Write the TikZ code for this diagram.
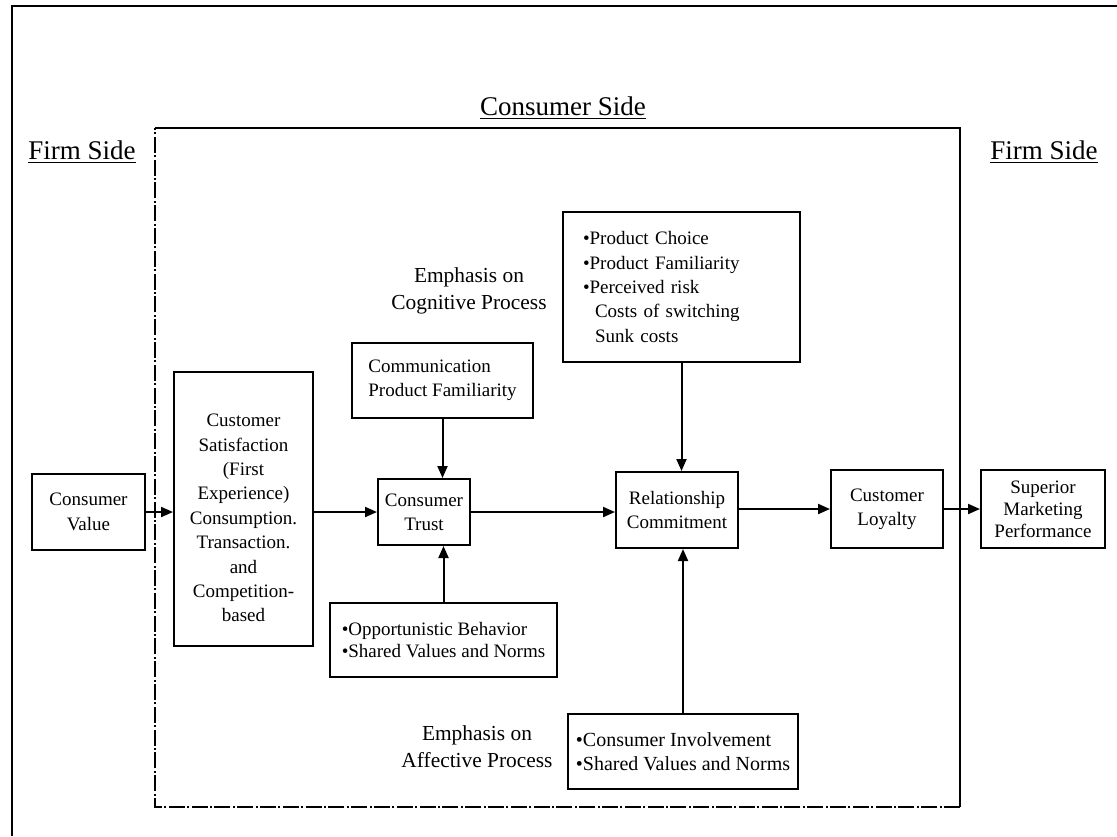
\documentclass[tikz,border=0pt]{standalone}
\usepackage{fontspec}
\setmainfont{Liberation Serif}
\usetikzlibrary{arrows.meta}
\begin{document}
\begin{tikzpicture}[x=0.5pt,y=-0.5pt,
  box/.style={draw, line width=1pt, rectangle, inner sep=2pt, font=\fontsize{9.5}{12.2}\selectfont, align=center},
  boxtext/.style={inner sep=0pt, font=\fontsize{9.5}{12.2}\selectfont, align=center},
  arr/.style={line width=1pt, -{Triangle[length=6pt,width=5pt]}},
  heading/.style={font=\fontsize{13.5}{16}\selectfont, inner sep=0pt},
  emphtext/.style={font=\fontsize{10.7}{13.5}\selectfont, align=center, inner sep=0pt}]
\useasboundingbox (0,0) rectangle (1117,836);
% outer frame
\draw[line width=1.2pt] (12,836) -- (12,6) -- (1117,6);
% consumer side box
\draw[line width=0.6pt] (155,128) -- (960,128) -- (960,807);
\draw[line width=0.6pt, dash pattern=on 8pt off 1.2pt on 1pt off 1.2pt] (960,807) -- (155,807) -- (155,128);
% headings
\node[heading] (cside) at (563,108) {\underline{Consumer Side}};
\node[heading] (fleft) at (82,152) {\underline{Firm Side}};
\node[heading] (fright) at (1044,152) {\underline{Firm Side}};
\node[emphtext] (cog) at (469,291) {Emphasis on\\Cognitive Process};
\node[emphtext] (aff) at (477,747) {Emphasis on\\Affective Process};
% boxes
\node[box, minimum width=56.5pt, minimum height=38pt] (cv) at (88.5,512) {Consumer\\Value};
\node[box, minimum width=69.5pt, minimum height=137pt] (sat) at (243.5,509) {};
\node[boxtext] (sattext) at (243.5,518) {Customer\\Satisfaction\\(First\\Experience)\\Consumption.\\Transaction.\\and\\Competition-\\based};
\node[box, minimum width=90.5pt, minimum height=37.5pt, align=left] (comm) at (442.5,380.5) {Communication\\Product Familiarity};
\node[box, minimum width=46pt, minimum height=33pt] (trust) at (424,512) {Consumer\\Trust};
\node[box, minimum width=113.5pt, minimum height=37pt, align=left, font=\fontsize{9.5}{10.8}\selectfont] (opp) at (443.5,640) {•Opportunistic Behavior\\•Shared Values and Norms};
\node[box, minimum width=118.5pt, minimum height=75pt, inner xsep=10pt, text width=98.5pt, align=left] (prod) at (681.5,287) {•Product Choice\\•Product Familiarity\\•Perceived risk\\\hspace*{6pt}Costs of switching\\\hspace*{6pt}Sunk costs};
\node[box, minimum width=61pt, minimum height=38pt] (rel) at (677,510) {Relationship\\Commitment};
\node[box, minimum width=115pt, minimum height=37.5pt, align=left, font=\fontsize{10}{12}\selectfont] (inv) at (683,751.5) {•Consumer Involvement\\•Shared Values and Norms};
\node[box, minimum width=56pt, minimum height=39pt] (loy) at (887,509) {Customer\\Loyalty};
\node[box, minimum width=62pt, minimum height=39pt, font=\fontsize{9.5}{11}\selectfont] (sup) at (1043,509) {Superior\\Marketing\\Performance};
% connectors
\draw[arr] (cv.east) -- (sat.west |- cv.east);
\draw[arr] (sat.east |- trust.west) -- (trust.west);
\draw[arr] (trust.east) -- (rel.west |- trust.east);
\draw[arr] (rel.east |- loy.west) -- (loy.west);
\draw[arr] (loy.east) -- (sup.west);
\draw[arr] (comm.south) -- (comm.south |- trust.north);
\draw[arr] (opp.north) -- (opp.north |- trust.south);
\draw[arr] (prod.south) -- (prod.south |- rel.north);
\draw[arr] (inv.north) -- (inv.north |- rel.south);
\end{tikzpicture}
\end{document}
